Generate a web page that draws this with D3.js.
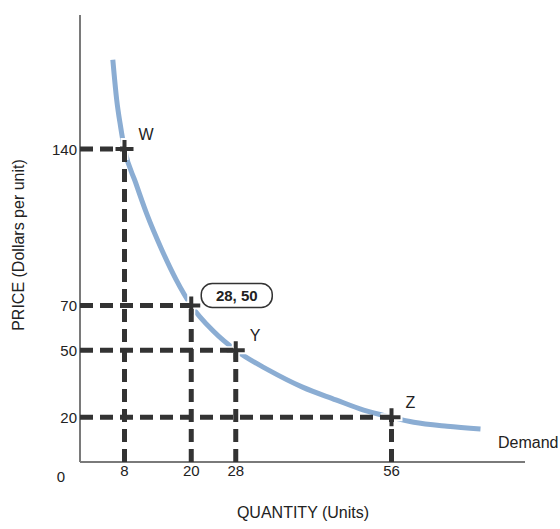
<!DOCTYPE html>
<html>
<head>
<meta charset="utf-8">
<script src="https://cdn.jsdelivr.net/npm/d3@7"></script>
<style>
  body { margin: 0; background: #fff; }
  text { font-family: "Liberation Sans", Arial, sans-serif; fill: #222; }
</style>
</head>
<body>
<div id="chart"></div>
<script>
// demand curve (quantity, price)
const curveQty = [5.9, 6.6, 7.3, 8, 10, 12, 14.7, 17.3, 20, 24, 28, 34, 40, 46, 51, 56, 60, 66, 72];
const curvePrice = [180, 162, 150, 140, 125, 111, 95, 81.5, 70, 58.5, 50, 41, 33.5, 27.8, 23.2, 20, 17.8, 16, 14.8];

// marked points
const pointNames = ["W", "", "Y", "Z"];
const pointQty = [8, 20, 28, 56];
const pointPrice = [140, 70, 50, 20];

const xTicks = [8, 20, 28, 56];
const yTicks = [140, 70, 50, 20];

const width = 560, height = 529;

const svg = d3.select("#chart").append("svg")
    .attr("width", width)
    .attr("height", height);

const x = d3.scaleLinear().domain([0, 80]).range([80, 525]);
const y = d3.scaleLinear().domain([0, 200]).range([462, 15]);

// axes
svg.append("line")
    .attr("x1", x(0)).attr("x2", x(0))
    .attr("y1", y(0)).attr("y2", y(200))
    .attr("stroke", "#7a7a7a").attr("stroke-width", 2);
svg.append("line")
    .attr("x1", x(0)).attr("x2", x(80))
    .attr("y1", y(0)).attr("y2", y(0))
    .attr("stroke", "#7a7a7a").attr("stroke-width", 2);

// demand curve
const curveData = curveQty.map((q, i) => [q, curvePrice[i]]);
svg.append("path")
    .datum(curveData)
    .attr("d", d3.line().x(d => x(d[0])).y(d => y(d[1])).curve(d3.curveMonotoneX))
    .attr("fill", "none")
    .attr("stroke", "#8badd3")
    .attr("stroke-width", 5);

const pts = pointQty.map((q, i) => ({q: q, p: pointPrice[i], name: pointNames[i]}));

// white halo so the curve breaks around each marker
svg.selectAll("path.halo")
    .data(pts)
    .join("path")
    .classed("halo", true)
    .attr("transform", d => "translate(" + x(d.q) + "," + y(d.p) + ")")
    .attr("d", "M-11,0H11M0,-11V11")
    .attr("stroke", "#fff")
    .attr("stroke-width", 8);

// dashed guide lines
const dash = "13,7";
svg.selectAll("line.hguide")
    .data(pts)
    .join("line")
    .classed("hguide", true)
    .attr("x1", x(0)).attr("x2", d => x(d.q))
    .attr("y1", d => y(d.p)).attr("y2", d => y(d.p))
    .attr("stroke", "#333").attr("stroke-width", 5)
    .attr("stroke-dasharray", dash);

svg.selectAll("line.vguide")
    .data(pts)
    .join("line")
    .classed("vguide", true)
    .attr("x1", d => x(d.q)).attr("x2", d => x(d.q))
    .attr("y1", y(0)).attr("y2", d => y(d.p))
    .attr("stroke", "#333").attr("stroke-width", 5)
    .attr("stroke-dasharray", dash);

// plus markers
const marks = svg.selectAll("g.mark")
    .data(pts)
    .join("g")
    .classed("mark", true)
    .attr("transform", d => "translate(" + x(d.q) + "," + y(d.p) + ")");
marks.append("path")
    .attr("d", "M-9,0H9M0,-9V9")
    .attr("stroke", "#333")
    .attr("stroke-width", 4);

// point names
marks.append("text")
    .text(d => d.name)
    .attr("x", 14)
    .attr("y", -9)
    .style("font-size", "16px");

// tick labels
svg.selectAll("text.ytick")
    .data(yTicks)
    .join("text")
    .classed("ytick", true)
    .attr("x", x(0) - 3)
    .attr("y", d => y(d) + 5.5)
    .attr("text-anchor", "end")
    .style("font-size", "15px")
    .text(d => d);

svg.selectAll("text.xtick")
    .data(xTicks)
    .join("text")
    .classed("xtick", true)
    .attr("x", d => x(d))
    .attr("y", y(0) + 14)
    .attr("text-anchor", "middle")
    .style("font-size", "15px")
    .text(d => d);

svg.append("text")
    .attr("x", 61).attr("y", 482)
    .attr("text-anchor", "middle")
    .style("font-size", "15px")
    .text("0");

// callout at (20, 70)
const box = svg.append("g")
    .attr("transform", "translate(" + (x(20) + 10) + "," + (y(70) - 22) + ")");
box.append("rect")
    .attr("width", 71).attr("height", 24)
    .attr("rx", 11)
    .attr("fill", "#fff")
    .attr("stroke", "#333")
    .attr("stroke-width", 1.5);
box.append("text")
    .attr("x", 35.5).attr("y", 17.5)
    .attr("text-anchor", "middle")
    .style("font-size", "15px")
    .style("font-weight", "bold")
    .text("28, 50");

// curve label
svg.append("text")
    .attr("x", 498).attr("y", 448)
    .style("font-size", "16px")
    .text("Demand");

// axis titles
svg.append("text")
    .attr("x", 303).attr("y", 518)
    .attr("text-anchor", "middle")
    .style("font-size", "16px")
    .text("QUANTITY (Units)");

svg.append("text")
    .attr("transform", "translate(24,245) rotate(-90)")
    .attr("text-anchor", "middle")
    .style("font-size", "16px")
    .text("PRICE (Dollars per unit)");
</script>
</body>
</html>
